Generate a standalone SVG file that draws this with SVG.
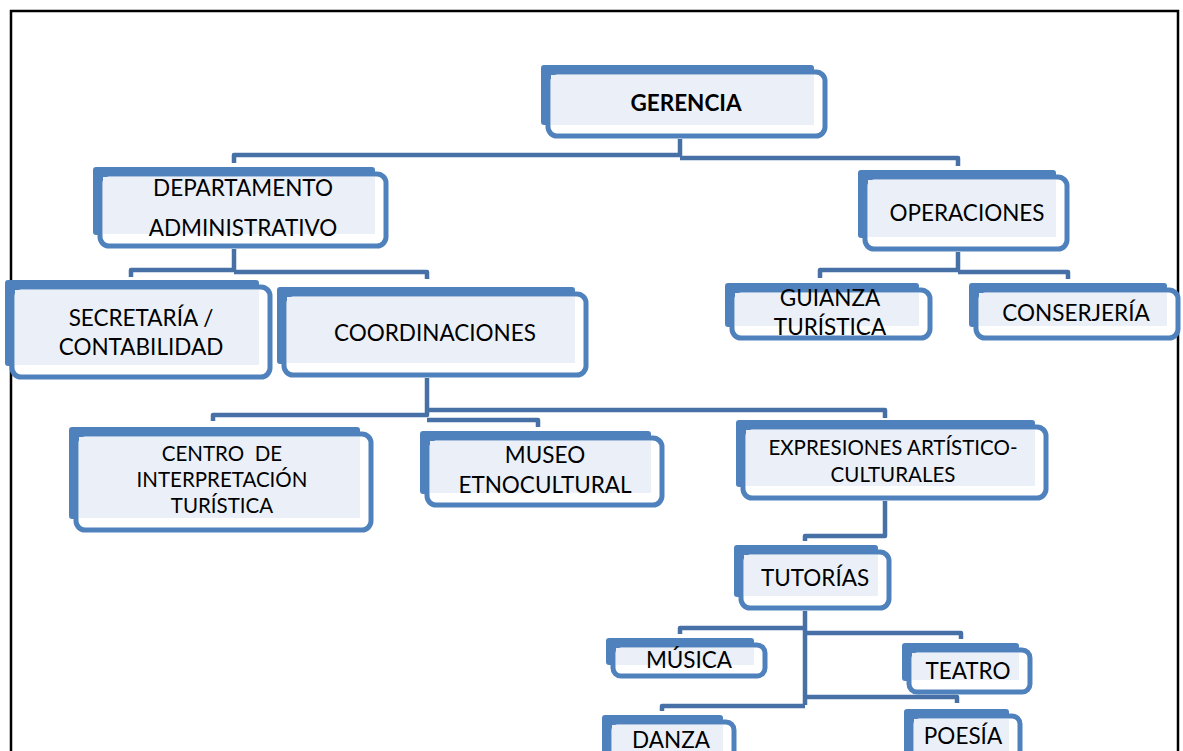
<svg xmlns="http://www.w3.org/2000/svg" width="1183" height="751" viewBox="0 0 1183 751">
<style>
.back{fill:#4F81BD}
.frame{fill:#ffffff;stroke:#4F81BD;stroke-width:5}
.inner{fill:#EBF0F8}
.t{font-family:Lato,"Liberation Sans",sans-serif;font-size:22.5px;fill:#000;text-anchor:middle}
.s{font-size:20.5px}
.b{font-weight:bold}
.c{fill:none;stroke:#4670A6;stroke-width:4.5;stroke-linejoin:round}
</style>
<rect x="0" y="0" width="1183" height="751" fill="#ffffff"/>
<rect x="11" y="11" width="1167" height="770" fill="none" stroke="#000" stroke-width="2.5"/>
<g id="connectors">
<path class="c" d="M680,139 V155 H234 V163 M680,158 H958 V166"/>
<path class="c" d="M234,249 V270 H131 V277 M234,272 H427 V279"/>
<path class="c" d="M958,252 V270 H820 V278 M958,272 H1068 V279"/>
<path class="c" d="M427,378 V415 H213 V421 M427,410 H885 V418 M427,420 H538 V427"/>
<path class="c" d="M885,501 V536 H805 V541"/>
<path class="c" d="M805,611 V705 M805,628 H680 V634 M805,633 H961 V639 M805,697 H957 V703 M805,706 H662 V711"/>
</g>
<g id="gerencia">
<rect class="back" x="541" y="65" width="273" height="60" rx="3"/>
<rect class="frame" x="548" y="72" width="277" height="64" rx="9"/>
<rect class="inner" x="551" y="75" width="263" height="50"/>
<text class="t b" x="686" y="111">GERENCIA</text>
</g>
<g id="departamento">
<rect class="back" x="93" y="167" width="282" height="68" rx="3"/>
<rect class="frame" x="100" y="174" width="286" height="72" rx="9"/>
<rect class="inner" x="103" y="177" width="272" height="57"/>
<text class="t" x="243" y="196">DEPARTAMENTO</text>
<text class="t" x="243" y="236">ADMINISTRATIVO</text>
</g>
<g id="operaciones">
<rect class="back" x="858" y="170" width="198" height="68" rx="3"/>
<rect class="frame" x="865" y="177" width="202" height="72" rx="9"/>
<rect class="inner" x="868" y="180" width="188" height="57"/>
<text class="t" x="967" y="221">OPERACIONES</text>
</g>
<g id="guianza">
<rect class="back" x="725" y="283" width="194" height="44" rx="3"/>
<rect class="frame" x="732" y="290" width="198" height="48" rx="9"/>
<rect class="inner" x="735" y="293" width="184" height="33"/>
<text class="t" x="830" y="306">GUIANZA</text>
<text class="t" x="830" y="335">TURÍSTICA</text>
</g>
<g id="conserjeria">
<rect class="back" x="969" y="283" width="198" height="44" rx="3"/>
<rect class="frame" x="976" y="290" width="202" height="48" rx="9"/>
<rect class="inner" x="979" y="293" width="188" height="33"/>
<text class="t" x="1076" y="321">CONSERJERÍA</text>
</g>
<g id="secretaria">
<rect class="back" x="5" y="280" width="254" height="86" rx="3"/>
<rect class="frame" x="12" y="287" width="258" height="90" rx="9"/>
<rect class="inner" x="15" y="290" width="244" height="75"/>
<text class="t" x="141" y="326">SECRETARÍA /</text>
<text class="t" x="141" y="355">CONTABILIDAD</text>
</g>
<g id="coordinaciones">
<rect class="back" x="277" y="287" width="298" height="77" rx="3"/>
<rect class="frame" x="284" y="294" width="302" height="81" rx="9"/>
<rect class="inner" x="287" y="297" width="288" height="66"/>
<text class="t" x="435" y="341">COORDINACIONES</text>
</g>
<g id="centro">
<rect class="back" x="69" y="427" width="291" height="92" rx="3"/>
<rect class="frame" x="76" y="434" width="295" height="96" rx="9"/>
<rect class="inner" x="79" y="437" width="281" height="81"/>
<text class="t s" x="222" y="461">CENTRO&#160; DE</text>
<text class="t s" x="222" y="487">INTERPRETACIÓN</text>
<text class="t s" x="222" y="513">TURÍSTICA</text>
</g>
<g id="museo">
<rect class="back" x="420" y="431" width="231" height="63" rx="3"/>
<rect class="frame" x="427" y="438" width="235" height="67" rx="9"/>
<rect class="inner" x="430" y="441" width="221" height="52"/>
<text class="t" x="545" y="463">MUSEO</text>
<text class="t" x="545" y="493">ETNOCULTURAL</text>
</g>
<g id="expresiones">
<rect class="back" x="736" y="420" width="299" height="67" rx="3"/>
<rect class="frame" x="743" y="427" width="303" height="71" rx="9"/>
<rect class="inner" x="746" y="430" width="289" height="56"/>
<text class="t s" x="893" y="455">EXPRESIONES ARTÍSTICO-</text>
<text class="t s" x="893" y="482">CULTURALES</text>
</g>
<g id="tutorias">
<rect class="back" x="734" y="545" width="144" height="52" rx="3"/>
<rect class="frame" x="741" y="552" width="148" height="56" rx="9"/>
<rect class="inner" x="744" y="555" width="134" height="41"/>
<text class="t" x="815" y="586">TUTORÍAS</text>
</g>
<g id="musica">
<rect class="back" x="606" y="638" width="148" height="27" rx="3"/>
<rect class="frame" x="613" y="645" width="152" height="31" rx="8"/>
<rect class="inner" x="616" y="648" width="138" height="17"/>
<text class="t" x="689" y="668">MÚSICA</text>
</g>
<g id="teatro">
<rect class="back" x="902" y="643" width="117" height="38" rx="3"/>
<rect class="frame" x="909" y="650" width="121" height="42" rx="8"/>
<rect class="inner" x="912" y="653" width="107" height="27"/>
<text class="t" x="968" y="679">TEATRO</text>
</g>
<g id="danza">
<rect class="back" x="602" y="715" width="121" height="50" rx="3"/>
<rect class="frame" x="609" y="722" width="125" height="50" rx="8"/>
<rect class="inner" x="612" y="725" width="111" height="40"/>
<text class="t" x="671" y="748">DANZA</text>
</g>
<g id="poesia">
<rect class="back" x="904" y="709" width="105" height="50" rx="3"/>
<rect class="frame" x="911" y="716" width="109" height="50" rx="8"/>
<rect class="inner" x="914" y="719" width="95" height="40"/>
<text class="t" x="963" y="744">POESÍA</text>
</g>
</svg>
